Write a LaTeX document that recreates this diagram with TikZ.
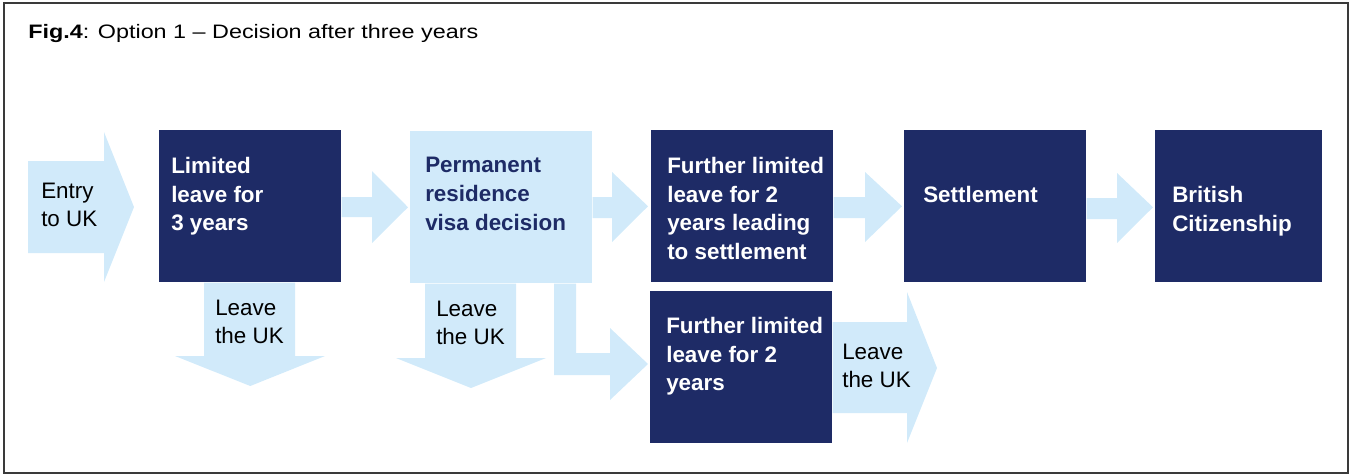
\documentclass[tikz,border=0pt]{standalone}
\usepackage{fontspec}
\setmainfont{Liberation Sans}
\newfontfamily\titlefont[FakeStretch=1.2]{Liberation Sans}
\usetikzlibrary{calc}
\definecolor{navy}{HTML}{1E2B66}
\definecolor{paleblue}{HTML}{D1EAFA}
\definecolor{framegray}{HTML}{3A3A3A}
\begin{document}
\begin{tikzpicture}[x=0.75pt,y=-0.75pt,
  darkbox/.style={rectangle, fill=navy, inner sep=0pt, anchor=north west, minimum width=136.5pt, minimum height=114pt},
  palebox/.style={darkbox, fill=paleblue},
  boldtxt/.style={anchor=north west, inner sep=0pt, align=left, text=white, font=\bfseries\fontsize{16.8}{21.5}\selectfont},
  plaintxt/.style={anchor=north west, inner sep=0pt, align=left, text=black, font=\fontsize{16.8}{21}\selectfont},
  blockarrow/.style={fill=paleblue, draw=none}]
\useasboundingbox (0,0) rectangle (1350,475);
\draw[framegray, line width=1.2pt] (4,3) rectangle (1348,473);
\node[anchor=north west, inner sep=0pt, font=\titlefont\fontsize{14.6}{17}\selectfont] (title) at (28,24) {\textbf{Fig.4}: Option 1 – Decision after three years};
% boxes
\node[darkbox] (lim) at (159,130) {};
\node[palebox] (perm) at (410,131) {};
\node[darkbox] (fur) at (651,130) {};
\node[darkbox] (set) at (904,130) {};
\node[darkbox, minimum width=125.25pt] (brit) at (1155,130) {};
\node[darkbox] (fur2) at (650,291) {};
% block arrows
\fill[blockarrow] (28,161) -- (104,161) -- (104,132) -- (134,207) -- (104,282) -- (104,253) -- (28,253) -- cycle;
\fill[blockarrow] (lim.east |- 0,197) -- (372,197) -- (372,171) -- ($(perm.west)+(-2,0)$) -- (372,243) -- (372,217) -- (lim.east |- 0,217) -- cycle;
\fill[blockarrow] (perm.east |- 0,197) -- (612,197) -- (612,172) -- ($(fur.west)+(-3,0)$) -- (612,242) -- (612,218) -- (perm.east |- 0,218) -- cycle;
\fill[blockarrow] (fur.east |- 0,197) -- (865,197) -- (865,172) -- ($(set.west)+(-2,0)$) -- (865,242) -- (865,218) -- (fur.east |- 0,218) -- cycle;
\fill[blockarrow] (set.east |- 0,198) -- (1117,198) -- (1117,173) -- ($(brit.west)+(-2,1)$) -- (1117,243) -- (1117,219) -- (set.east |- 0,219) -- cycle;
\fill[blockarrow] (lim.south -| 204,0) -- (204,356) -- (175,356) -- (lim.south |- 0,386) -- (325,356) -- (295,356) -- (lim.south -| 295,0) -- cycle;
\fill[blockarrow] (perm.south -| 425,0) -- (425,358) -- (396,358) -- (471,388) -- (546,358) -- (516,358) -- (perm.south -| 516,0) -- cycle;
\fill[blockarrow] (perm.south -| 554,0) -- (554,375) -- (610,375) -- (610,400) -- ($(fur2.west |- 0,364)+(-2,0)$) -- (610,328) -- (610,353) -- (576,353) -- (perm.south -| 576,0) -- cycle;
\fill[blockarrow] (fur2.east |- 0,322) -- (907,322) -- (907,292) -- (937,368) -- (907,443) -- (907,413) -- (fur2.east |- 0,413) -- cycle;
% texts
\node[plaintxt] (entryt) at (41,183) {Entry\\to UK};
\node[boldtxt] (limt) at (171,157) {Limited\\leave for\\3 years};
\node[boldtxt, text=navy] (permt) at (425,157) {Permanent\\residence\\visa decision};
\node[boldtxt] (furt) at (667,157) {Further limited\\leave for 2\\years leading\\to settlement};
\node[boldtxt] (sett) at (923,186) {Settlement};
\node[boldtxt] (britt) at (1172,186) {British\\Citizenship};
\node[boldtxt] (fur2t) at (666,317) {Further limited\\leave for 2\\years};
\node[plaintxt] (l1t) at (215,300) {Leave\\the UK};
\node[plaintxt] (l2t) at (436,301) {Leave\\the UK};
\node[plaintxt] (l3t) at (842,344) {Leave\\the UK};
\end{tikzpicture}
\end{document}
